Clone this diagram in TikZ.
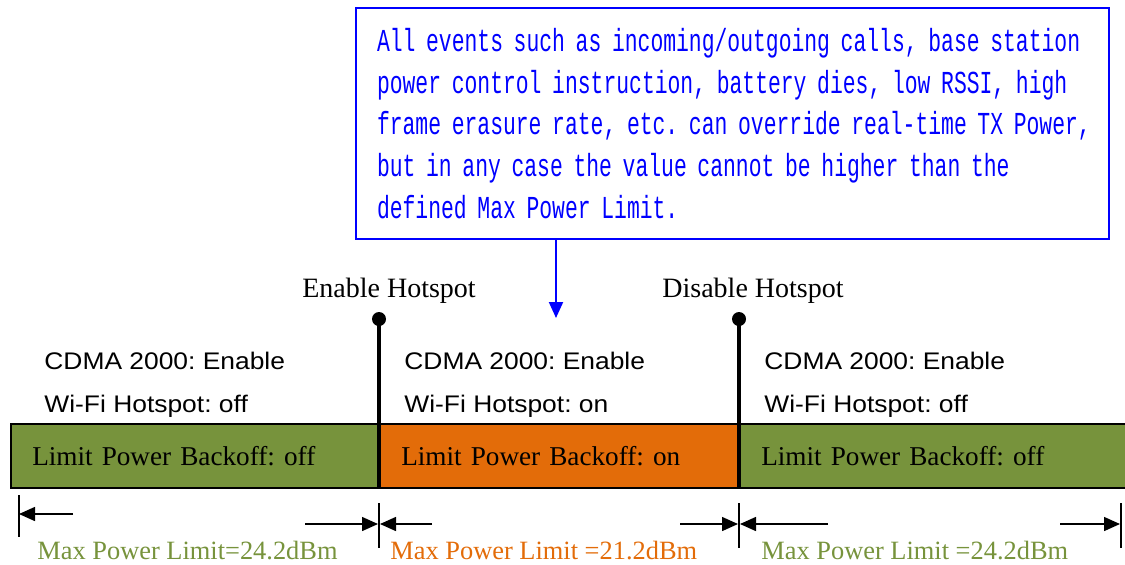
\documentclass[tikz,border=0pt]{standalone}
\usepackage{fontspec}
\setmainfont{Liberation Serif}
\newfontfamily\statefont[FakeStretch=1.1]{Liberation Sans}
\newfontfamily\notefont[FakeStretch=0.668]{Liberation Mono}
\usetikzlibrary{arrows.meta}
\definecolor{hsgreen}{RGB}{119, 147, 60}
\definecolor{hsorange}{RGB}{227, 108, 9}
\definecolor{hsblue}{RGB}{0, 0, 255}
\frenchspacing

\begin{document}
\begin{tikzpicture}[x=0.5pt, y=-0.5pt,
  segbox/.style={draw=black, line width=0.75pt, minimum height=32pt, inner xsep=10.75pt,
    inner ysep=0pt, align=left, anchor=north west, font=\fontsize{13.6}{16}\selectfont},
  statetxt/.style={anchor=base west, inner sep=0pt, font=\statefont\fontsize{12}{14}\selectfont},
  evtxt/.style={anchor=base, inner sep=0pt, font=\fontsize{14}{16}\selectfont},
  limtxt/.style={anchor=base west, inner sep=0pt, font=\fontsize{13.2}{15}\selectfont},
  notebox/.style={draw=hsblue, line width=1pt, text=hsblue, anchor=north west, inner xsep=10.5pt,
    text width=355.5pt, minimum height=115.5pt, align=left,
    font=\notefont\fontsize{16}{20.85}\selectfont},
  marker/.style={line width=2pt},
  tick/.style={line width=0.75pt},
  dimarrow/.style={line width=0.75pt, -{Triangle[length=8pt, width=7pt]}},
  notearrow/.style={hsblue, line width=1pt, -{Triangle[length=8pt, width=7pt]}}]
  \useasboundingbox (0,0) rectangle (1125,564);

  % Note box
  \node[notebox] (note) at (355,7) {\mbox{All events such as incoming/outgoing calls, base station}\\
    \mbox{power control instruction, battery dies, low RSSI, high}\\
    \mbox{frame erasure rate, etc. can override real-time TX Power,}\\
    \mbox{but in any case the value cannot be higher than the}\\
    \mbox{defined Max Power Limit.}};
  \coordinate (noteTip) at (556,318);
  \draw[notearrow] (note.south -| noteTip) -- (noteTip);

  % Timeline bar
  \node[segbox, fill=hsgreen, text width=163pt] (segA) at (10,423) {Limit Power Backoff: off};
  \node[segbox, fill=hsorange, text width=158.5pt] (segB) at (379,423) {Limit Power Backoff: on};
  \node[segbox, fill=hsgreen, text width=171.5pt] (segC) at (739,423) {Limit Power Backoff: off};

  % Hotspot events
  \coordinate (evOn) at (379,319);
  \coordinate (evOff) at (739,319);
  \draw[marker] (evOn) -- (evOn |- segA.south);
  \draw[marker] (evOff) -- (evOff |- segB.south);
  \fill (evOn) circle (3.5pt);
  \fill (evOff) circle (3.5pt);
  \node[evtxt] (onLbl) at (389,297) {Enable Hotspot};
  \node[evtxt] (offLbl) at (753,297) {Disable Hotspot};

  % State labels
  \node[statetxt] (cdmaA) at (44,369) {CDMA 2000: Enable};
  \node[statetxt] (wifiA) at (44,412) {Wi-Fi Hotspot: off};
  \node[statetxt] (cdmaB) at (404,369) {CDMA 2000: Enable};
  \node[statetxt] (wifiB) at (404,412) {Wi-Fi Hotspot: on};
  \node[statetxt] (cdmaC) at (764,369) {CDMA 2000: Enable};
  \node[statetxt] (wifiC) at (764,412) {Wi-Fi Hotspot: off};

  % Limit ticks
  \draw[tick] (19,495) -- (19,537);
  \draw[tick] (379,503) -- (379,548);
  \draw[tick] (739,503) -- (739,548);
  \draw[tick] (1121,503) -- (1121,548);
  \coordinate (tA) at (19,514);
  \coordinate (tB1) at (378,524);
  \coordinate (tB2) at (380,524);
  \coordinate (tC1) at (738,524);
  \coordinate (tC2) at (740,524);
  \coordinate (tD) at (1120,524);

  % Limit arrows
  \coordinate (aA) at (73,514);
  \coordinate (aB1) at (305,524);
  \coordinate (aB2) at (432,524);
  \coordinate (aC1) at (680,524);
  \coordinate (aC2) at (828,524);
  \coordinate (aD) at (1060,524);
  \draw[dimarrow] (aA) -- (tA);
  \draw[dimarrow] (aB1) -- (tB1);
  \draw[dimarrow] (aB2) -- (tB2);
  \draw[dimarrow] (aC1) -- (tC1);
  \draw[dimarrow] (aC2) -- (tC2);
  \draw[dimarrow] (aD) -- (tD);

  % Limit labels
  \node[limtxt, hsgreen] (limA) at (37,559) {Max Power Limit=24.2dBm};
  \node[limtxt, hsorange] (limB) at (390,559) {Max Power Limit =21.2dBm};
  \node[limtxt, hsgreen] (limC) at (761,559) {Max Power Limit =24.2dBm};
\end{tikzpicture}
\end{document}
